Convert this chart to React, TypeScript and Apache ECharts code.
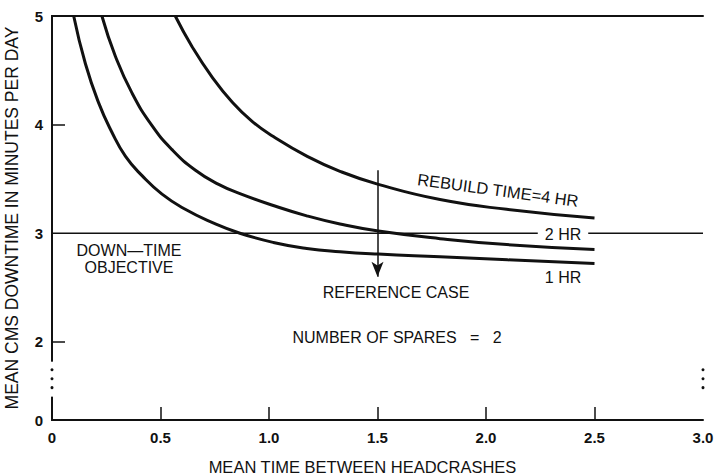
import React, { useEffect, useRef } from "react";
import * as echarts from "echarts";

// ---- data ----
const xTickValues = [0, 0.5, 1, 1.5, 2, 2.5, 3];
const yTickValues = [2, 3, 4, 5];
const yZeroPosition = 1.28; // where "0" sits on the broken axis
const yBreakLow = 1.495;
const yBreakHigh = 1.817;
const breakDots = [1.578, 1.66, 1.743];

const rebuild1hr: [number, number][] = [
  [0.1, 5.0], [0.154, 4.56], [0.215, 4.2], [0.276, 3.93], [0.338, 3.71],
  [0.415, 3.53], [0.507, 3.36], [0.614, 3.22], [0.737, 3.1], [0.866, 3.0],
  [1.02, 2.915], [1.174, 2.86], [1.327, 2.83], [1.504, 2.808], [1.788, 2.783],
  [2.1, 2.755], [2.5, 2.722],
];
const rebuild2hr: [number, number][] = [
  [0.23, 5.0], [0.292, 4.63], [0.369, 4.29], [0.461, 3.99], [0.553, 3.77],
  [0.661, 3.58], [0.768, 3.45], [0.866, 3.365], [1.02, 3.255], [1.174, 3.16],
  [1.327, 3.085], [1.504, 3.02], [1.788, 2.95], [2.095, 2.895], [2.5, 2.85],
];
const rebuild4hr: [number, number][] = [
  [0.568, 5.0], [0.645, 4.72], [0.737, 4.44], [0.829, 4.21], [0.922, 4.03],
  [1.02, 3.89], [1.174, 3.71], [1.327, 3.57], [1.504, 3.45], [1.788, 3.31],
  [2.095, 3.22], [2.5, 3.14],
];
const objectiveLevel = 3;
const referenceCase = { x: 1.5, from: 3.58, to: 2.6 };

const FONT = "'Liberation Sans', Arial, Helvetica, sans-serif";
const INK = "#111";

export default function App() {
  const ref = useRef<HTMLDivElement>(null);
  useEffect(() => {
    if (!ref.current) return;
    const chart = echarts.init(ref.current, null, { renderer: "svg" });
    const curve = (name: string, data: [number, number][]) => ({
      name,
      type: "line",
      data,
      showSymbol: false,
      smooth: 0.5,
      lineStyle: { color: INK, width: 3 },
      z: 3,
    });
    chart.setOption({
      animation: false,
      backgroundColor: "#fff",
      grid: { left: 52, right: 12, top: 16, bottom: 55, containLabel: false, outerBoundsMode: "none" },
      xAxis: [
        {
          type: "value",
          min: 0,
          max: 3,
          interval: 0.5,
          position: "bottom",
          name: "MEAN TIME BETWEEN HEADCRASHES",
          nameLocation: "middle",
          nameGap: 38,
          nameTextStyle: { fontFamily: FONT, fontSize: 16.5, color: INK, padding: [0, 30, 0, 0] },
          axisLine: { show: true, lineStyle: { color: INK, width: 2 } },
          axisTick: { show: true, inside: true, length: 13, lineStyle: { color: INK, width: 1.5 }, customValues: [0.5, 1, 1.5, 2, 2.5] },
          axisLabel: {
            show: true,
            customValues: xTickValues,
            margin: 10,
            fontFamily: FONT,
            fontSize: 15,
            fontWeight: "bold",
            color: INK,
            formatter: (v: number) => (v === 0 ? "0" : v.toFixed(1)),
          },
          splitLine: { show: false },
        },
        {
          type: "value",
          min: 0,
          max: 3,
          position: "top",
          axisLine: { show: true, lineStyle: { color: INK, width: 2 } },
          axisTick: { show: false },
          axisLabel: { show: false },
          splitLine: { show: false },
        },
      ],
      yAxis: [
        {
          type: "value",
          min: yZeroPosition,
          max: 5,
          position: "left",
          name: "MEAN CMS DOWNTIME IN MINUTES PER DAY",
          nameLocation: "middle",
          nameGap: 31,
          nameTextStyle: { fontFamily: FONT, fontSize: 17.5, color: INK },
          axisLine: { show: true, lineStyle: { color: INK, width: 2 } },
          axisTick: { show: true, inside: true, length: 13, lineStyle: { color: INK, width: 1.5 }, customValues: [2, 4] },
          axisLabel: {
            show: true,
            customValues: [yZeroPosition, ...yTickValues],
            margin: 9,
            fontFamily: FONT,
            fontSize: 15,
            fontWeight: "bold",
            color: INK,
            formatter: (v: number) => (v < 2 ? "0" : String(v)),
          },
          splitLine: { show: false },
        },
        {
          type: "value",
          min: yZeroPosition,
          max: 5,
          position: "right",
          axisLine: { show: true, lineStyle: { color: INK, width: 2 } },
          axisTick: { show: false },
          axisLabel: { show: false },
          splitLine: { show: false },
        },
      ],
      series: [
        curve("1 HR", rebuild1hr),
        curve("2 HR", rebuild2hr),
        curve("4 HR", rebuild4hr),
        {
          name: "objective",
          type: "line",
          data: [[0, objectiveLevel], [3, objectiveLevel]],
          showSymbol: false,
          lineStyle: { color: INK, width: 1.5 },
          z: 2,
          markLine: {
            silent: true,
            symbol: ["none", "arrow"],
            symbolSize: [9, 15],
            label: { show: false },
            lineStyle: { color: INK, width: 1.5, type: "solid" },
            data: [[{ coord: [referenceCase.x, referenceCase.from] }, { coord: [referenceCase.x, referenceCase.to] }]],
          },
        },
      ],
    });

    const px = (x: number, y: number) => chart.convertToPixel({ gridIndex: 0 }, [x, y]) as number[];
    const graphics: any[] = [];
    [0, 3].forEach((xv) => {
      const top = px(xv, yBreakHigh);
      const bot = px(xv, yBreakLow);
      graphics.push({
        type: "rect",
        z: 100,
        shape: { x: top[0] - 4, y: top[1], width: 8, height: bot[1] - top[1] },
        style: { fill: "#fff" },
      });
      breakDots.forEach((d) => {
        const p = px(xv, d);
        graphics.push({ type: "circle", z: 101, shape: { cx: p[0], cy: p[1], r: 1.5 }, style: { fill: INK } });
      });
    });
    const txt = (text: string, x: number, y: number, extra: any = {}) => ({
      type: "text",
      z: 110,
      x,
      y,
      ...extra,
      style: {
        text,
        fontFamily: FONT,
        fontSize: 16,
        fill: INK,
        align: "center",
        verticalAlign: "middle",
        ...(extra.style || {}),
      },
    });
    graphics.push(txt("REBUILD TIME=4 HR", 498, 190, { rotation: -0.135, style: { fontSize: 16.5 } }));
    graphics.push(
      txt("2 HR", 563, 234, { style: { backgroundColor: "#fff", padding: [0, 7, 0, 7] } })
    );
    graphics.push(txt("1 HR", 563, 277));
    graphics.push(txt("DOWN—TIME", 129, 250));
    graphics.push(txt("OBJECTIVE", 129, 267));
    graphics.push(txt("REFERENCE CASE", 396, 292));
    graphics.push(txt("NUMBER OF SPARES   =   2", 397, 337));
    chart.setOption({ graphic: graphics });

    return () => chart.dispose();
  }, []);
  return (
    <div
      ref={ref}
      style={{ position: "fixed", left: 0, top: 0, width: 715, height: 475, background: "#fff" }}
    />
  );
}
